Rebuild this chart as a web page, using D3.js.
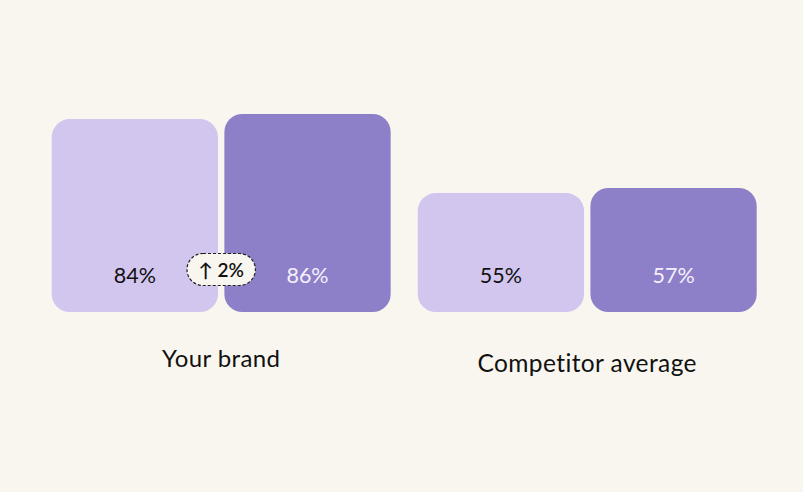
<!DOCTYPE html>
<html><head><meta charset="utf-8">
<script src="https://cdn.jsdelivr.net/npm/d3@7"></script>
<style>
html,body{margin:0;padding:0;background:#f9f6ef;}
svg{display:block;font-family:Lato,"Noto Sans",sans-serif;}
</style></head>
<body><svg id="c" width="803" height="492"></svg>
<script>
const categories = ["Your brand", "Competitor average"];
const series = ["Before", "After"];
const before = [84, 55];
const after = [86, 57];
const changeLabels = ["↑ 2%", null];

const W = 803, H = 492;
const svg = d3.select("#c");
svg.append("rect").attr("width", W).attr("height", H).attr("fill", "#f9f6ef");

const colors = {Before: "#d2c6ef", After: "#8e80c8"};
const textColors = {Before: "#111111", After: "#f4f0fc"};

const x0 = d3.scaleBand().domain(categories).range([51.7, 756.7]).paddingInner(0.074).paddingOuter(0);
const x1 = d3.scaleBand().domain(series).range([0, x0.bandwidth()]).paddingInner(0.037);
const baseline = 312;
const y = d3.scaleLinear().domain([8.4, 86]).range([baseline, 114]);

const data = categories.map((c, i) => ({cat: c, i, vals: [{s: "Before", v: before[i]}, {s: "After", v: after[i]}]}));

const g = svg.selectAll("g.cat").data(data).join("g").attr("class", "cat")
  .attr("transform", d => `translate(${x0(d.cat)},0)`);

g.selectAll("rect.bar").data(d => d.vals).join("rect").attr("class", "bar")
  .attr("x", d => x1(d.s)).attr("width", x1.bandwidth())
  .attr("y", d => y(d.v)).attr("height", d => baseline - y(d.v))
  .attr("rx", 18).attr("fill", d => colors[d.s]);

g.selectAll("text.val").data(d => d.vals).join("text").attr("class", "val")
  .attr("x", d => x1(d.s) + x1.bandwidth() / 2).attr("y", 283)
  .attr("text-anchor", "middle").attr("font-size", 21.5)
  .attr("fill", d => textColors[d.s]).text(d => d.v + "%");

g.append("text").attr("x", x0.bandwidth() / 2)
  .attr("y", d => d.i === 0 ? 367 : 372)
  .attr("text-anchor", "middle").attr("font-size", d => d.i === 0 ? 24 : 24.5).attr("fill", "#111")
  .attr("letter-spacing", 0.4)
  .text(d => d.cat);

// change badge
const badge = g.filter(d => changeLabels[d.i]).append("g")
  .attr("transform", d => `translate(${x0.bandwidth() / 2},269.5)`);
badge.append("rect").attr("x", -34.2).attr("y", -16).attr("width", 68.4).attr("height", 32)
  .attr("rx", 16).attr("fill", "#f9f6ef").attr("stroke", "#222").attr("stroke-width", 1.2)
  .attr("stroke-dasharray", "3,2");
badge.append("text").attr("x", 0).attr("y", 7).attr("text-anchor", "middle")
  .attr("font-size", 19).attr("font-weight", 600).attr("fill", "#111")
  .text(d => changeLabels[d.i]);
</script></body></html>
